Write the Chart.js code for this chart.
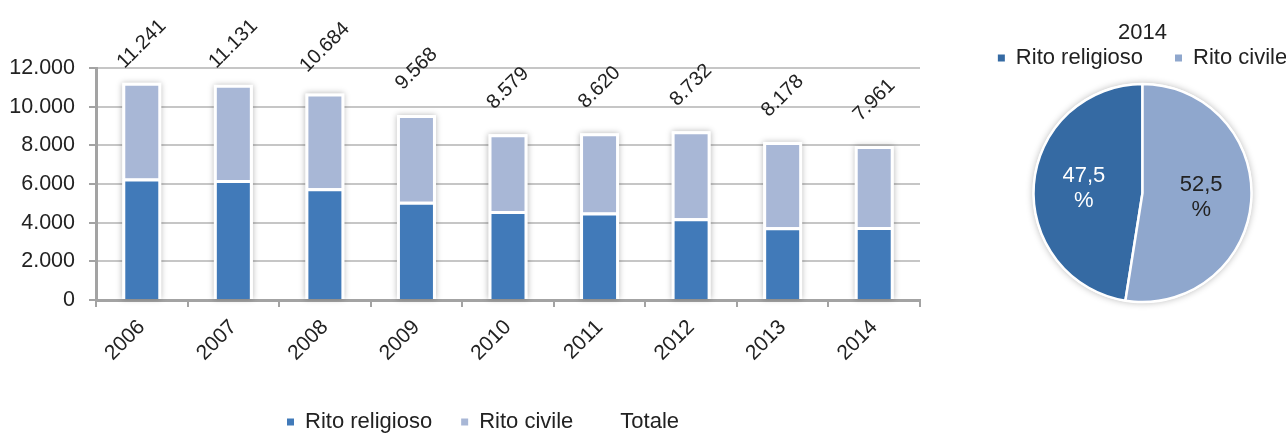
<!DOCTYPE html>
<html lang="it">
<head>
<meta charset="utf-8">
<title>Matrimoni per rito, 2006-2014</title>
<script src="https://cdn.jsdelivr.net/npm/chart.js@4.4.1/dist/chart.umd.min.js"></script>
<style>
  html, body { margin: 0; padding: 0; background: #fff; overflow: hidden; }
  #wrap { position: relative; width: 1286px; height: 434px; overflow: hidden; }
  #barre { position: absolute; left: 0; top: 0; }
  #torta { position: absolute; left: 960px; top: 0; }
</style>
</head>
<body>
<div id="wrap">
  <canvas id="barre" width="960" height="434"></canvas>
  <canvas id="torta" width="365" height="434"></canvas>
</div>
<script>
let anni = ['2006', '2007', '2008', '2009', '2010', '2011', '2012', '2013', '2014'];
let ritoReligioso = [6290, 6210, 5780, 5085, 4600, 4530, 4225, 3760, 3781];
let ritoCivile = [4951, 4921, 4904, 4483, 3979, 4090, 4507, 4418, 4180];
let totali = [11241, 11131, 10684, 9568, 8579, 8620, 8732, 8178, 7961];
let asseYMax = 12000;
let asseYPasso = 2000;
let annoTorta = '2014';

const testo = '#222222';
const blu = '#417ab9';
const azzurro = '#a8b7d6';

Chart.defaults.font.family = "'Liberation Sans', Arial, sans-serif";
Chart.defaults.color = testo;

// 10684 -> "10.684"
function puntiMigliaia(n) {
    return String(n).replace(/\B(?=(\d{3})+(?!\d))/g, '.');
}

// quadratini della legenda senza bordo bianco, "Totale" senza quadratino
function senzaBordo(voci) {
    return voci.map(l => {
        l.lineWidth = 0;
        if (l.text === 'Totale') {
            l.fillStyle = 'rgba(0,0,0,0)';
        }
        return l;
    });
}

// alone grigio dietro ogni colonna
const ombraBarre = {
    id: 'ombraBarre',
    beforeDatasetsDraw(chart) {
        let ctx = chart.ctx;
        let sotto = chart.getDatasetMeta(0).data;
        let sopra = chart.getDatasetMeta(1).data;
        ctx.save();
        ctx.shadowColor = 'rgba(0,0,0,0.28)';
        ctx.shadowBlur = 6;
        ctx.fillStyle = '#fff';
        sotto.forEach((b, i) => {
            let top = sopra[i].y;
            ctx.fillRect(b.x - b.width / 2, top, b.width, b.base - top);
        });
        ctx.restore();
    }
};

// la legenda in basso sta sotto l'area del grafico, non sotto le etichette dell'asse y
const legendaCentrata = {
    id: 'legendaCentrata',
    afterLayout(chart) {
        chart.legend.left += 46;
    }
};

// totali ruotati sopra le colonne
const etichetteTotali = {
    id: 'etichetteTotali',
    afterDatasetsDraw(chart) {
        let ctx = chart.ctx;
        let punti = chart.getDatasetMeta(2).data;
        ctx.save();
        ctx.font = "20px 'Liberation Sans', Arial, sans-serif";
        ctx.fillStyle = testo;
        ctx.textAlign = 'center';
        ctx.textBaseline = 'middle';
        punti.forEach((p, i) => {
            let y = Math.max(p.y - 46, 44);
            ctx.save();
            ctx.translate(p.x, y);
            ctx.rotate(-Math.PI / 4);
            ctx.fillText(puntiMigliaia(totali[i]), 0, 0);
            ctx.restore();
        });
        ctx.restore();
    }
};

new Chart(document.getElementById('barre'), {
    type: 'bar',
    data: {
        labels: anni,
        datasets: [
            {
                label: 'Rito religioso',
                data: ritoReligioso,
                backgroundColor: blu,
                borderColor: '#ffffff',
                borderWidth: 3,
                barPercentage: 0.852,
                categoryPercentage: 0.5
            },
            {
                label: 'Rito civile',
                data: ritoCivile,
                backgroundColor: azzurro,
                borderColor: '#ffffff',
                borderWidth: 3,
                barPercentage: 0.852,
                categoryPercentage: 0.5
            },
            {
                type: 'line',
                label: 'Totale',
                data: totali,
                showLine: false,
                pointRadius: 0,
                borderColor: 'rgba(0,0,0,0)',
                backgroundColor: 'rgba(0,0,0,0)'
            }
        ]
    },
    options: {
        responsive: false,
        animation: false,
        layout: {
            padding: { top: 68, right: 40, bottom: -9, left: 0 }
        },
        scales: {
            x: {
                stacked: true,
                grid: {
                    offset: true,
                    drawOnChartArea: false,
                    tickLength: 7,
                    color: '#a3a3a3',
                    lineWidth: 2
                },
                border: { color: '#a3a3a3', width: 3 },
                ticks: {
                    minRotation: 45,
                    maxRotation: 45,
                    padding: 8,
                    color: testo,
                    font: { size: 21 }
                },
                afterFit: s => { s.height = 82; }
            },
            y: {
                stacked: true,
                min: 0,
                max: asseYMax,
                ticks: {
                    stepSize: asseYPasso,
                    padding: 14,
                    color: testo,
                    font: { size: 21.5 },
                    callback: v => puntiMigliaia(v)
                },
                grid: {
                    color: '#c6c6c6',
                    lineWidth: 2,
                    tickLength: 7,
                    tickColor: '#a3a3a3'
                },
                border: { color: '#a3a3a3', width: 3 },
                afterFit: s => { s.width = 96; }
            }
        },
        plugins: {
            legend: {
                position: 'bottom',
                labels: {
                    boxWidth: 7,
                    boxHeight: 7,
                    padding: 29,
                    color: testo,
                    font: { size: 22 },
                    generateLabels: chart => senzaBordo(Chart.defaults.plugins.legend.labels.generateLabels(chart))
                }
            },
            tooltip: { enabled: false }
        }
    },
    plugins: [ombraBarre, legendaCentrata, etichetteTotali]
});

// torta dell'ultimo anno
let religiosoUltimo = ritoReligioso[ritoReligioso.length - 1];
let civileUltimo = ritoCivile[ritoCivile.length - 1];
let sommaUltimo = religiosoUltimo + civileUltimo;

const ombraTorta = {
    id: 'ombraTorta',
    beforeDatasetsDraw(chart) {
        let arco = chart.getDatasetMeta(0).data[0];
        let ctx = chart.ctx;
        ctx.save();
        ctx.shadowColor = 'rgba(0,0,0,0.28)';
        ctx.shadowBlur = 7;
        ctx.fillStyle = '#fff';
        ctx.beginPath();
        ctx.arc(arco.x, arco.y, arco.outerRadius + 1, 0, Math.PI * 2);
        ctx.fill();
        ctx.restore();
    }
};

const etichettePercentuali = {
    id: 'etichettePercentuali',
    afterDatasetsDraw(chart) {
        let ctx = chart.ctx;
        let valori = chart.data.datasets[0].data;
        let colori = ['#ffffff', testo];
        ctx.save();
        ctx.font = "22px 'Liberation Sans', Arial, sans-serif";
        ctx.textAlign = 'center';
        ctx.textBaseline = 'middle';
        chart.getDatasetMeta(0).data.forEach((arco, i) => {
            let medio = (arco.startAngle + arco.endAngle) / 2;
            let d = arco.outerRadius * 0.54;
            let x = arco.x + Math.cos(medio) * d;
            let y = arco.y + Math.sin(medio) * d;
            let perc = (valori[i] / sommaUltimo * 100).toFixed(1).replace('.', ',');
            ctx.fillStyle = colori[i];
            ctx.fillText(perc, x, y - 12.5);
            ctx.fillText('%', x, y + 12.5);
        });
        ctx.restore();
    }
};

new Chart(document.getElementById('torta'), {
    type: 'pie',
    data: {
        labels: ['Rito religioso', 'Rito civile'],
        datasets: [{
            data: [religiosoUltimo, civileUltimo],
            backgroundColor: ['#356aa3', '#8fa7cd'],
            borderColor: '#ffffff',
            borderWidth: 2.5,
            radius: 109
        }]
    },
    options: {
        responsive: false,
        animation: false,
        rotation: civileUltimo / sommaUltimo * 360,
        layout: {
            padding: { top: 0, right: 0, bottom: 127, left: 0 }
        },
        plugins: {
            title: {
                display: true,
                text: annoTorta,
                color: testo,
                font: { size: 22, weight: 'normal' },
                padding: { top: 19.8, bottom: -31.2 }
            },
            legend: {
                position: 'top',
                labels: {
                    boxWidth: 7,
                    boxHeight: 7,
                    padding: 32,
                    color: testo,
                    font: { size: 22 },
                    generateLabels: chart => senzaBordo(Chart.overrides.pie.plugins.legend.labels.generateLabels(chart))
                }
            },
            tooltip: { enabled: false }
        }
    },
    plugins: [ombraTorta, etichettePercentuali]
});
</script>
</body>
</html>
